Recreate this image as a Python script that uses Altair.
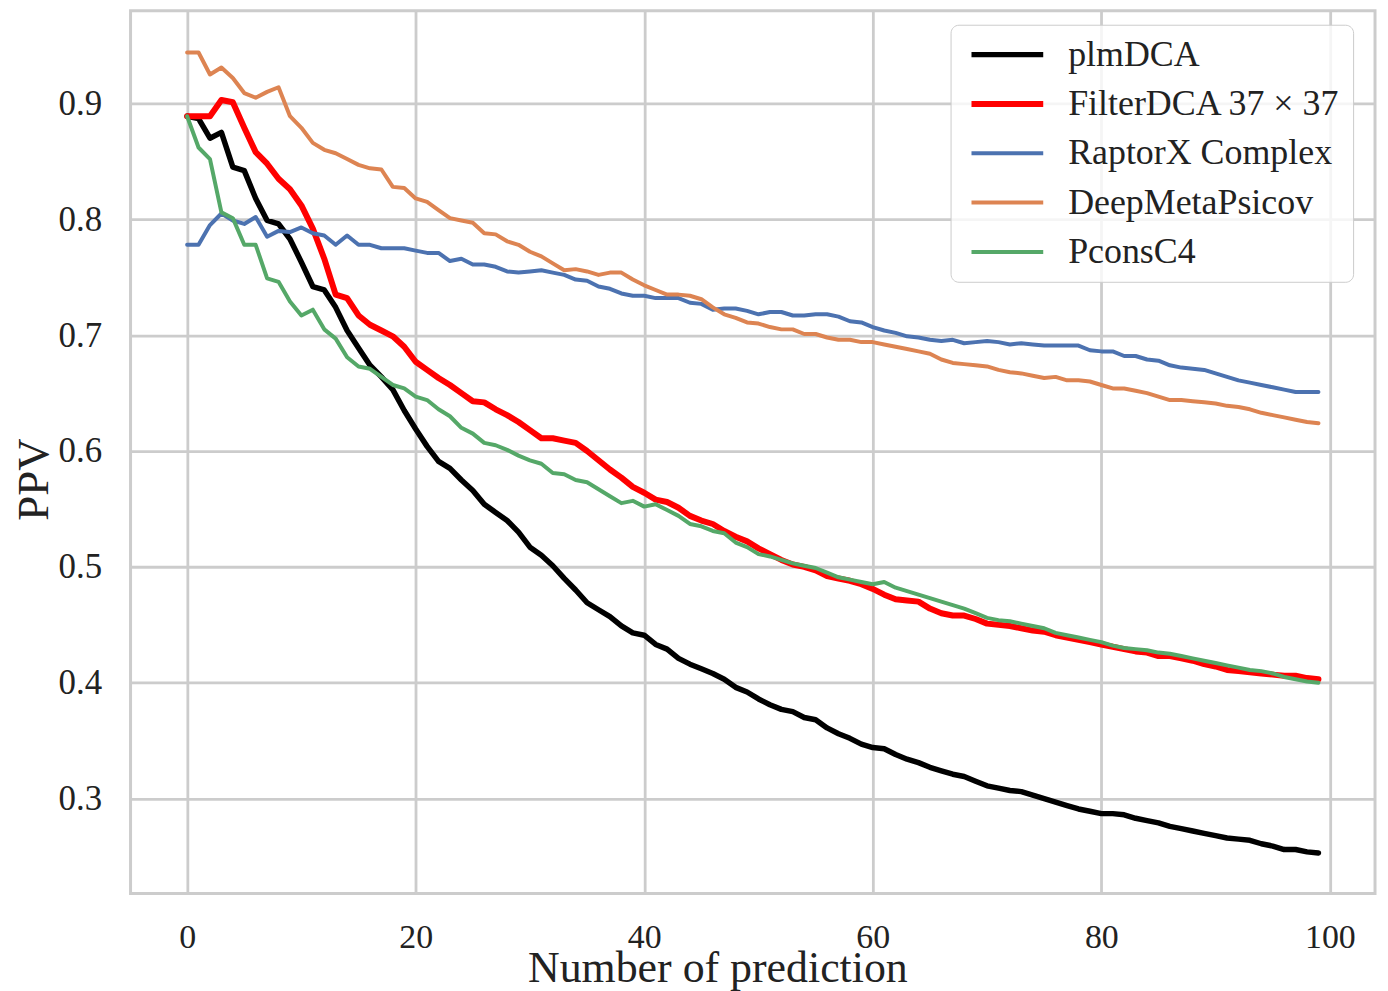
import altair as alt
import pandas as pd

methods = ["plmDCA", "FilterDCA 37 × 37", "RaptorX Complex", "DeepMetaPsicov", "PconsC4"]
colors = ["#000000", "#ff0000", "#4c72b0", "#dd8452", "#55a868"]
widths = [5.5, 6.0, 4.0, 4.0, 4.0]

n_pred = list(range(100))

plmdca = [0.889, 0.887, 0.870, 0.875, 0.845, 0.842, 0.818, 0.799, 0.796, 0.783,
          0.763, 0.742, 0.739, 0.724, 0.704, 0.689, 0.674, 0.664, 0.653, 0.635,
          0.619, 0.604, 0.591, 0.585, 0.575, 0.566, 0.554, 0.547, 0.540, 0.530,
          0.517, 0.510, 0.501, 0.490, 0.480, 0.469, 0.463, 0.457, 0.449, 0.443,
          0.441, 0.433, 0.429, 0.421, 0.416, 0.412, 0.408, 0.403, 0.396, 0.392,
          0.386, 0.381, 0.377, 0.375, 0.370, 0.368, 0.361, 0.356, 0.352, 0.347,
          0.344, 0.343, 0.338, 0.334, 0.331, 0.327, 0.324, 0.321, 0.319, 0.315,
          0.311, 0.309, 0.307, 0.306, 0.303, 0.300, 0.297, 0.294, 0.291, 0.289,
          0.287, 0.287, 0.286, 0.283, 0.281, 0.279, 0.276, 0.274, 0.272, 0.270,
          0.268, 0.266, 0.265, 0.264, 0.261, 0.259, 0.256, 0.256, 0.254, 0.253]

filterdca = [0.889, 0.889, 0.889, 0.903, 0.901, 0.879, 0.858, 0.848, 0.835, 0.826,
             0.812, 0.792, 0.766, 0.735, 0.732, 0.717, 0.709, 0.704, 0.699, 0.690,
             0.677, 0.670, 0.663, 0.657, 0.650, 0.643, 0.642, 0.636, 0.631, 0.625,
             0.618, 0.611, 0.611, 0.609, 0.607, 0.600, 0.592, 0.584, 0.577, 0.569,
             0.564, 0.558, 0.556, 0.551, 0.544, 0.540, 0.537, 0.531, 0.526, 0.522,
             0.516, 0.511, 0.506, 0.502, 0.500, 0.497, 0.492, 0.490, 0.488, 0.485,
             0.481, 0.476, 0.472, 0.471, 0.470, 0.464, 0.460, 0.458, 0.458, 0.455,
             0.451, 0.450, 0.449, 0.447, 0.445, 0.444, 0.441, 0.439, 0.437, 0.435,
             0.433, 0.431, 0.429, 0.427, 0.426, 0.423, 0.423, 0.421, 0.419, 0.416,
             0.414, 0.411, 0.410, 0.409, 0.408, 0.407, 0.406, 0.406, 0.404, 0.403]

raptorx = [0.778, 0.778, 0.795, 0.805, 0.799, 0.796, 0.802, 0.785, 0.790, 0.789,
           0.793, 0.788, 0.786, 0.778, 0.786, 0.778, 0.778, 0.775, 0.775, 0.775,
           0.773, 0.771, 0.771, 0.764, 0.766, 0.761, 0.761, 0.759, 0.755, 0.754,
           0.755, 0.756, 0.754, 0.752, 0.748, 0.747, 0.742, 0.740, 0.736, 0.734,
           0.734, 0.732, 0.732, 0.732, 0.728, 0.727, 0.722, 0.723, 0.723, 0.721,
           0.718, 0.720, 0.720, 0.717, 0.717, 0.718, 0.718, 0.716, 0.712, 0.711,
           0.707, 0.704, 0.702, 0.699, 0.698, 0.696, 0.695, 0.696, 0.693, 0.694,
           0.695, 0.694, 0.692, 0.693, 0.692, 0.691, 0.691, 0.691, 0.691, 0.687,
           0.686, 0.686, 0.682, 0.682, 0.679, 0.678, 0.674, 0.672, 0.671, 0.670,
           0.667, 0.664, 0.661, 0.659, 0.657, 0.655, 0.653, 0.651, 0.651, 0.651]

deepmeta = [0.944, 0.944, 0.925, 0.931, 0.922, 0.909, 0.905, 0.910, 0.914, 0.889,
            0.879, 0.866, 0.860, 0.857, 0.852, 0.847, 0.844, 0.843, 0.828, 0.827,
            0.818, 0.815, 0.808, 0.801, 0.799, 0.797, 0.788, 0.787, 0.781, 0.778,
            0.772, 0.768, 0.762, 0.756, 0.757, 0.755, 0.752, 0.754, 0.754, 0.748,
            0.743, 0.739, 0.735, 0.735, 0.734, 0.731, 0.724, 0.718, 0.715, 0.711,
            0.710, 0.707, 0.705, 0.705, 0.701, 0.701, 0.698, 0.696, 0.696, 0.694,
            0.694, 0.692, 0.690, 0.688, 0.686, 0.684, 0.679, 0.676, 0.675, 0.674,
            0.673, 0.670, 0.668, 0.667, 0.665, 0.663, 0.664, 0.661, 0.661, 0.660,
            0.657, 0.654, 0.654, 0.652, 0.650, 0.647, 0.644, 0.644, 0.643, 0.642,
            0.641, 0.639, 0.638, 0.636, 0.633, 0.631, 0.629, 0.627, 0.625, 0.624]

pconsc4 = [0.889, 0.862, 0.852, 0.806, 0.801, 0.778, 0.778, 0.749, 0.746, 0.729,
           0.717, 0.722, 0.705, 0.697, 0.681, 0.673, 0.671, 0.664, 0.657, 0.654,
           0.647, 0.644, 0.636, 0.630, 0.620, 0.615, 0.607, 0.605, 0.601, 0.596,
           0.592, 0.589, 0.581, 0.580, 0.575, 0.573, 0.567, 0.561, 0.555, 0.557,
           0.552, 0.554, 0.549, 0.544, 0.537, 0.535, 0.531, 0.529, 0.521, 0.517,
           0.511, 0.509, 0.506, 0.503, 0.501, 0.499, 0.495, 0.491, 0.489, 0.487,
           0.485, 0.487, 0.482, 0.479, 0.476, 0.473, 0.470, 0.467, 0.464, 0.460,
           0.456, 0.454, 0.453, 0.451, 0.449, 0.447, 0.443, 0.441, 0.439, 0.437,
           0.435, 0.432, 0.430, 0.429, 0.428, 0.426, 0.425, 0.423, 0.421, 0.419,
           0.417, 0.415, 0.413, 0.411, 0.410, 0.408, 0.405, 0.403, 0.401, 0.400]

x_ticks = [0, 20, 40, 60, 80, 100]
y_ticks = [0.3, 0.4, 0.5, 0.6, 0.7, 0.8, 0.9]

series = [plmdca, filterdca, raptorx, deepmeta, pconsc4]
rows = []
for m, vals in zip(methods, series):
    for i, v in zip(n_pred, vals):
        rows.append({"n": i, "ppv": v, "method": m})
df = pd.DataFrame(rows)

FONT = "Liberation Serif"

legend = alt.Legend(
    title=None, orient="none", legendX=823, legendY=14,
    symbolType="M-1,0H7", symbolSize=324,
    labelFont=FONT, labelFontSize=36, labelColor="#222222", labelLimit=0,
    labelOffset=70, rowPadding=13.5, padding=12,
    fillColor="rgba(255,255,255,0.8)", strokeColor="#cccccc",
    cornerRadius=8,
)

x_enc = alt.X("n:Q", scale=alt.Scale(domain=[-4.95, 103.95], nice=False, zero=False),
              axis=alt.Axis(values=x_ticks, title="Number of prediction", labelPadding=27,
                            labelFontSize=34, labelFlush=False, titleX=589, titleY=88,
                            titleBaseline="alphabetic", titleAlign="center", titleFontSize=44))
y_enc = alt.Y("ppv:Q", scale=alt.Scale(domain=[0.218, 0.98], nice=False, zero=False),
              axis=alt.Axis(values=y_ticks, format=".1f", title="PPV", labelPadding=29,
                            labelFlush=False, titleX=-83, titleY=470, titleAngle=270,
                            titleBaseline="alphabetic", titleAlign="center", titleFontSize=45))
c_enc = alt.Color("method:N", scale=alt.Scale(domain=methods, range=colors), legend=legend)
w_enc = alt.StrokeWidth("method:N", scale=alt.Scale(type="ordinal", domain=methods, range=widths),
                        legend=legend)

layers = []
for m in methods:
    layers.append(
        alt.Chart(df).transform_filter(alt.datum.method == m)
        .mark_line(strokeJoin="round", strokeCap="round")
        .encode(x=x_enc, y=y_enc, color=c_enc, strokeWidth=w_enc)
    )

chart = alt.layer(*layers).properties(
    width=1249, height=886,
    padding={"left": 123, "top": 1, "right": 5, "bottom": 96},
    autosize=alt.AutoSizeParams(type="none"),
).configure_view(
    stroke="#cccccc", strokeWidth=3
).configure_axis(
    grid=True, gridColor="#cccccc", gridWidth=2.8, domain=False, ticks=False,
    labelFont=FONT, labelFontSize=35, labelColor="#222222",
    titleFont=FONT, titleFontSize=46, titleFontWeight="normal", titleColor="#222222",
)

chart.save("out.html", embed_options={"renderer": "svg", "actions": False})
